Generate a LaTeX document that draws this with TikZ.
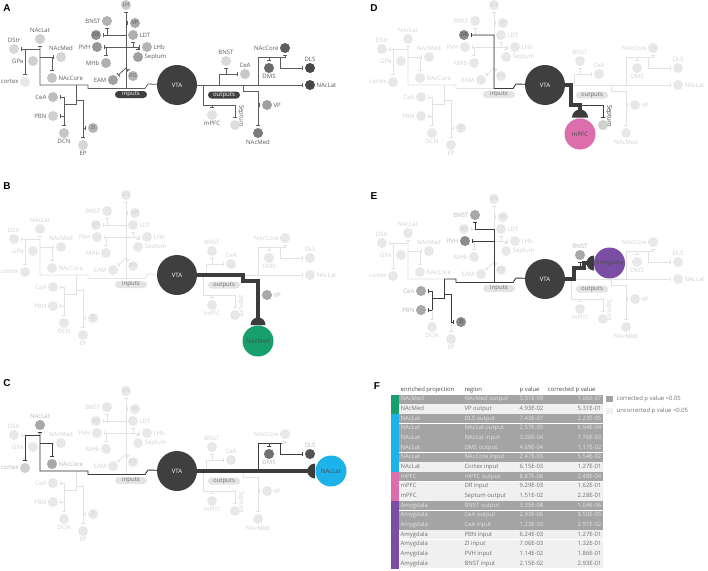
\documentclass[tikz,border=0pt]{standalone}
\usepackage{fontspec}
\setmainfont{Open Sans}
\newfontfamily\letterfont{Liberation Sans}
\usetikzlibrary{arrows.meta}
\definecolor{lnA}{HTML}{5C5C5C}
\definecolor{txA}{HTML}{5C5C5C}
\definecolor{fadeL}{HTML}{E2E2E2}
\definecolor{fadeN}{HTML}{E8E8E8}
\definecolor{fadeT}{HTML}{D2D2D2}
\definecolor{dk}{HTML}{3C3C3C}
\definecolor{dtx}{HTML}{4A4A4A}
\definecolor{vtac}{HTML}{3F3F3F}
\definecolor{pillF}{HTML}{E4E4E4}
\definecolor{pillT}{HTML}{6E6E6E}
\definecolor{gr}{HTML}{17A06D}
\definecolor{cy}{HTML}{1DB3EA}
\definecolor{pk}{HTML}{DC6EAE}
\definecolor{pu}{HTML}{7B4EA5}
\definecolor{rowD}{HTML}{A4A4A4}
\definecolor{rowL}{HTML}{F0F0F0}
\definecolor{tabTD}{HTML}{E4E4E4}
\definecolor{tabTL}{HTML}{707070}
\definecolor{hA}{HTML}{A8A8A8}
\definecolor{hB}{HTML}{8C8C8C}
\definecolor{hC}{HTML}{D0D0D0}
\definecolor{hD}{HTML}{707070}
\definecolor{hE}{HTML}{555555}
% panel A node fills
\definecolor{cLH}{HTML}{C8C8C8}
\definecolor{cVPI}{HTML}{A8A8A8}
\definecolor{cBNSTI}{HTML}{B2B2B2}
\definecolor{cDR}{HTML}{8E8E8E}
\definecolor{cLDT}{HTML}{B0B0B0}
\definecolor{cPVH}{HTML}{969696}
\definecolor{cLHb}{HTML}{B4B4B4}
\definecolor{cSeptI}{HTML}{A0A0A0}
\definecolor{cMHb}{HTML}{B0B0B0}
\definecolor{cEAM}{HTML}{A0A0A0}
\definecolor{cPO}{HTML}{B4B4B4}
\definecolor{cNAcLatI}{HTML}{D0D0D0}
\definecolor{cDStr}{HTML}{D8D8D8}
\definecolor{cGPe}{HTML}{D0D0D0}
\definecolor{ccortex}{HTML}{E8E8E8}
\definecolor{cNAcMedI}{HTML}{D6D6D6}
\definecolor{cNAcCoreI}{HTML}{C4C4C4}
\definecolor{cCeAI}{HTML}{BEBEBE}
\definecolor{cPBN}{HTML}{D0D0D0}
\definecolor{cDCN}{HTML}{C6C6C6}
\definecolor{cZI}{HTML}{B4B4B4}
\definecolor{cEP}{HTML}{D6D6D6}
\definecolor{cBNSTO}{HTML}{DADADA}
\definecolor{cCeAO}{HTML}{C8C8C8}
\definecolor{cNAcCoreO}{HTML}{5E5E5E}
\definecolor{cDMS}{HTML}{6A6A6A}
\definecolor{cDLS}{HTML}{484848}
\definecolor{cNAcLatO}{HTML}{484848}
\definecolor{cVPO}{HTML}{A0A0A0}
\definecolor{cNAcMedO}{HTML}{7A7A7A}
\definecolor{cmPFC}{HTML}{E2E2E2}
\definecolor{cSeptO}{HTML}{DEDEDE}
\newcommand\nfill[1]{c#1}
\newcommand\Afills{\renewcommand\nfill[1]{c##1}\colorlet{lnc}{lnA}\colorlet{lbc}{txA}\colorlet{pillf}{vtac}\colorlet{pillt}{white}}
\newcommand\Ffills{\renewcommand\nfill[1]{fadeN}\colorlet{lnc}{fadeL}\colorlet{lbc}{fadeT}\colorlet{pillf}{pillF}\colorlet{pillt}{pillT}}
\newcommand\fsz{\fontsize{6}{7}\selectfont}
% texts of output nodes that a big node may replace
\newcommand\lNAcLatO{NAcLat}
\newcommand\lNAcMedO{NAcMed}
\newcommand\lmPFC{mPFC}
\newcommand\lCeAO{CeA}
\newcommand\basenet[4]{%
\node[vta] (#1VTA) at (177,85) {VTA};
\node[pill] (#1in) at (131,94.5) {inputs};
\node[pill] (#1out) at (224,95) {outputs};
\node[nd,fill=\nfill{LH}] (#1LH) at (126,5) {LH};
\node[nd,fill=\nfill{VPI}] (#1VPI) at (135,23) {VP};
\node[nd,fill=\nfill{BNSTI},label=left:BNST] (#1BNSTI) at (107,21) {};
\node[nd,fill=\nfill{DR}] (#1DR) at (96,35) {DR};
\node[nd,fill=\nfill{LDT},label=right:LDT] (#1LDT) at (133,35) {};
\node[nd,fill=\nfill{PVH},label=left:PVH] (#1PVH) at (97,47) {};
\node[nd,fill=\nfill{LHb},label=right:LHb] (#1LHb) at (147,47) {};
\node[nd,fill=\nfill{SeptI},label=right:Septum] (#1SeptI) at (138,57) {};
\node[nd,fill=\nfill{MHb},label=left:MHb] (#1MHb) at (106,63) {};
\node[nd,fill=\nfill{EAM},label=left:EAM] (#1EAM) at (113,80) {};
\node[nd,fill=\nfill{PO}] (#1PO) at (133,76) {PO};
\node[nd,fill=\nfill{NAcLatI},label=above:NAcLat] (#1NAcLatI) at (40,39) {};
\node[nd,fill=\nfill{DStr},label=above:DStr] (#1DStr) at (14,49) {};
\node[nd,fill=\nfill{GPe},label={[label distance=3.5pt]left:GPe}] (#1GPe) at (33,61) {};
\node[nd,fill=\nfill{cortex},label=left:cortex] (#1cortex) at (25,82) {};
\node[nd,fill=\nfill{NAcMedI},label=above:NAcMed] (#1NAcMedI) at (61,57) {};
\node[nd,fill=\nfill{NAcCoreI},label=right:NAcCore] (#1NAcCoreI) at (52,78) {};
\node[nd,fill=\nfill{CeAI},label=left:CeA] (#1CeAI) at (53,97) {};
\node[nd,fill=\nfill{PBN},label=left:PBN] (#1PBN) at (53,116) {};
\node[nd,fill=\nfill{DCN},label=below:DCN] (#1DCN) at (64,133) {};
\node[nd,fill=\nfill{ZI}] (#1ZI) at (93,128) {ZI};
\node[nd,fill=\nfill{EP},label=below:EP] (#1EP) at (83,145) {};
\node[nd,fill=\nfill{BNSTO},label=above:BNST] (#1BNSTO) at (#3,61) {};
\node[nd,fill=\nfill{CeAO},label=above:\lCeAO] (#1CeAO) at (#4,74) {};
\node[nd,fill=\nfill{NAcCoreO},label=left:NAcCore] (#1NAcCoreO) at (285,48) {};
\node[nd,fill=\nfill{DMS},label=below:DMS] (#1DMS) at (269,68) {};
\node[nd,fill=\nfill{DLS},label=above:DLS] (#1DLS) at (310,68) {};
\node[nd,fill=\nfill{NAcLatO},label=right:\lNAcLatO] (#1NAcLatO) at (310,85) {};
\node[nd,fill=\nfill{VPO},label=right:VP] (#1VPO) at (267,105) {};
\node[nd,fill=\nfill{NAcMedO},label=below:\lNAcMedO] (#1NAcMedO) at (258,133) {};
\node[nd,fill=\nfill{mPFC},label=below:\lmPFC] (#1mPFC) at (212,115) {};
\node[nd,fill=\nfill{SeptO}] (#1SeptO) at (235,125) {};
\node[lbl,rotate=-90] (#1SeptOl) at (241,116) {Septum};
\coordinate (#1j1) at (148,84); \coordinate (#1j2) at (145,88.5);
\coordinate (#1j3) at (126,88.5); \coordinate (#1j4) at (88,88.5);
\coordinate (#1j5) at (88,85); \coordinate (#1j6) at (76,85);
\coordinate (#1j7) at (40,85); \coordinate (#1j8) at (40,57);
\coordinate (#1j9) at (40,49); \coordinate (#1jc) at (25,49);
\coordinate (#1jg) at (25,61); \coordinate (#1jn) at (52,57);
\coordinate (#1j10) at (76,100); \coordinate (#1j11) at (83,100);
\coordinate (#1jz) at (83,128); \coordinate (#1j12) at (76,104);
\coordinate (#1j13) at (64,104); \coordinate (#1jce) at (64,97);
\coordinate (#1jpb) at (64,116);
\coordinate (#1u1) at (126,23); \coordinate (#1u2) at (126,35);
\coordinate (#1u3) at (107,35); \coordinate (#1u4) at (126,47);
\coordinate (#1u5) at (133,47); \coordinate (#1u6) at (138,47);
\coordinate (#1u7) at (106,47); \coordinate (#1u8) at (126,68);
\coordinate (#1o1) at (#2,85); \coordinate (#1o2) at (#2,74);
\coordinate (#1o3) at (#3,74); \coordinate (#1o4) at (203,85);
\coordinate (#1o5) at (203,105); \coordinate (#1o6) at (212,105);
\coordinate (#1o7) at (235,105); \coordinate (#1o8) at (243,85);
\coordinate (#1o9) at (243,91); \coordinate (#1o10) at (258,91);
\coordinate (#1o11) at (258,105); \coordinate (#1o12) at (258,85);
\coordinate (#1o13) at (258,57); \coordinate (#1o14) at (269,57);
\coordinate (#1o15) at (280,57); \coordinate (#1o16) at (285,57);
\coordinate (#1o17) at (280,68);
\draw[ln,br] (#1VTA) -- (#1j1) -- (#1j2) -- (#1j3) -- (#1j4) -- (#1j5) -- (#1j6) -- (#1j7) -- (#1j9) -- (#1NAcLatI);
\draw[ln,br] (#1j9) -- (#1jc) -- (#1cortex);
\draw[ln,br] (#1jc) -- (#1DStr);
\draw[ln,br] (#1jg) -- (#1GPe);
\draw[ln,br] (#1j8) -- (#1NAcMedI);
\draw[ln,br] (#1jn) -- (#1NAcCoreI);
\draw[ln] (#1j6) -- (#1j12) -- (#1j13);
\draw[ln,br] (#1jce) -- (#1DCN);
\draw[ln,br] (#1jce) -- (#1CeAI);
\draw[ln,br] (#1jpb) -- (#1PBN);
\draw[ln,br] (#1j10) -- (#1j11) -- (#1EP);
\draw[ln,br] (#1jz) -- (#1ZI);
\draw[ln,br] (#1j3) -- (#1LH);
\draw[ln,br] (#1u1) -- (#1VPI);
\draw[ln,br] (#1u2) -- (#1u3) -- (#1BNSTI);
\draw[ln,br] (#1u3) -- (#1DR);
\draw[ln,br,{Bar[width=4.5pt,line width=0.9pt]}-{Bar[width=4.5pt,line width=0.9pt]},shorten <=1.8pt] (#1PVH) -- (#1LHb);
\draw[ln,br] (#1u5) -- (#1LDT);
\draw[ln,br] (#1u6) -- (#1SeptI);
\draw[ln,br] (#1u7) -- (#1MHb);
\draw[ln,br] (#1u8) -- (#1EAM);
\draw[ln,br] (#1u8) -- (#1PO);
\draw[ln,br] (#1VTA) -- (#1NAcLatO);
\draw[ln,br] (#1o1) -- (#1o2) -- (#1CeAO);
\draw[ln,br] (#1o3) -- (#1BNSTO);
\draw[ln,br] (#1o4) -- (#1o5) -- (#1o7) -- (#1SeptO);
\draw[ln,br] (#1o6) -- (#1mPFC);
\draw[ln,br] (#1o8) -- (#1o9) -- (#1o10) -- (#1NAcMedO);
\draw[ln,br] (#1o11) -- (#1VPO);
\draw[ln,br] (#1o12) -- (#1o13) -- (#1o16) -- (#1NAcCoreO);
\draw[ln,br] (#1o14) -- (#1DMS);
\draw[ln,br] (#1o15) -- (#1o17) -- (#1DLS);
}
\begin{document}
\begin{tikzpicture}[x=1pt,y=-1pt,
  every label/.style={font=\fsz,text=lbc,inner sep=0.6pt},
  label distance=0.6pt,
  nd/.style={circle,minimum size=10pt,inner sep=0pt,text=lbc,font=\fontsize{5.3}{6}\selectfont},
  hnd/.style={circle,minimum size=10pt,inner sep=0pt,text=dtx,font=\fontsize{5.3}{6}\selectfont,
     every label/.style={font=\fsz,text=dtx,inner sep=0.6pt}},
  lbl/.style={font=\fsz,text=lbc,inner sep=0pt},
  hlbl/.style={font=\fsz,text=dtx,inner sep=0pt},
  vta/.style={circle,fill=vtac,minimum size=40pt,inner sep=0pt,text=white,font=\fsz},
  pill/.style={rounded corners=3.5pt,fill=pillf,text=pillt,minimum width=32pt,minimum height=7pt,inner sep=0pt,font=\fsz},
  big/.style={circle,minimum size=31pt,inner sep=0pt,text=black!70,font=\fsz},
  ln/.style={draw=lnc,line width=0.8pt},
  dln/.style={draw=dk,line width=0.9pt},
  hl/.style={draw=dk,line width=3.3pt},
  br/.style={-{Bar[width=4.5pt,line width=0.9pt]},shorten >=1.8pt},
  plet/.style={font=\letterfont\bfseries\fontsize{10}{12}\selectfont,inner sep=0pt},
  tab/.style={font=\fontsize{5.9}{7}\selectfont,inner sep=0pt,text height=4.3pt,text depth=1.2pt}
]
\useasboundingbox (0,0) rectangle (708,570);
\fill[white] (0,0) rectangle (708,570);
% ---------- A
\Afills
\begin{scope}
\basenet{a}{219}{226}{245}
\end{scope}
\node[plet] (lA) at (7,8) {A};
% ---------- B
\Ffills
\begin{scope}[shift={(0,190)}]
\renewcommand\lNAcMedO{}
\basenet{b}{206}{212}{231}
\draw[hl] (bVTA) -- (bo8) -- (bo9) -- (bo10) -- (258,130);
\fill[dk] (250.5,135) arc[start angle=180,end angle=360,radius=7.5] -- cycle;
\node[big,fill=gr] (bNAcMedB) at (258,151) {NAcMed};
\draw[dln,br] (bo11) -- (bVPO);
\node[hnd,fill=hA,label=right:VP] (bVPh) at (bVPO) {};
\end{scope}
\node[plet] (lB) at (7,186) {B};
% ---------- C
\begin{scope}[shift={(0,386)}]
\renewcommand\lNAcLatO{}
\basenet{c}{206}{212}{231}
\draw[hl] (cVTA) -- (309,85);
\fill[dk] (315,92.5) arc[start angle=90,end angle=270,radius=7.5] -- cycle;
\node[big,fill=cy] (cNAcLatB) at (331,85) {NAcLat};
\draw[dln] (co12) -- (co13) -- (282,57);
\draw[dln,br] (co14) -- (cDMS);
\draw[dln,br] (co15) -- (co17) -- (cDLS);
\node[hnd,fill=hD,label=below:DMS] (cDMSh) at (cDMS) {};
\node[hnd,fill=hE,label=above:DLS] (cDLSh) at (cDLS) {};
\draw[dln,br] (cVTA) -- (cj1) -- (cj2) -- (cj3) -- (cj4) -- (cj5) -- (cj6) -- (cj7) -- (cj9) -- (cNAcLatI);
\draw[dln,br] (cj9) -- (cjc) -- (ccortex);
\draw[dln] (cj8) -- (cjn);
\draw[dln,br] (cjn) -- (cNAcCoreI);
\node[hnd,fill=hA,label=above:NAcLat] (cNAcLatIh) at (cNAcLatI) {};
\node[hnd,fill=hC,label=left:cortex] (ccortexh) at (ccortex) {};
\node[hnd,fill=hA,label=right:NAcCore] (cNAcCoreIh) at (cNAcCoreI) {};
\end{scope}
\node[plet] (lC) at (7,383) {C};
% ---------- D
\begin{scope}[shift={(368,0)}]
\renewcommand\lmPFC{}
\basenet{d}{206}{212}{231}
\draw[hl] (dVTA) -- (do4) -- (do5) -- (do6) -- (212,111);
\fill[dk] (204,117.5) arc[start angle=180,end angle=360,radius=8] -- cycle;
\node[big,fill=pk] (dmPFCB) at (212,134) {mPFC};
\draw[dln,br] (do6) -- (do7) -- (dSeptO);
\node[hnd,fill=hC] (dSeptOh) at (dSeptO) {};
\node[hlbl,rotate=-90] (dSeptOlh) at (dSeptOl) {Septum};
\draw[dln,br] (dVTA) -- (dj1) -- (dj2) -- (dj3) -- (du2) -- (du3) -- (dDR);
\node[hnd,fill=hB] (dDRh) at (dDR) {DR};
\end{scope}
\node[plet] (lD) at (374,8) {D};
% ---------- E
\begin{scope}[shift={(368,194)}]
\renewcommand\lCeAO{}
\basenet{e}{206}{212}{231}
\draw[hl] (eVTA) -- (eo1) -- (eo2) -- (216,74) -- (216,69) -- (220,69);
\fill[dk] (226,76.5) arc[start angle=90,end angle=270,radius=7.5] -- cycle;
\node[big,fill=pu] (eAmyB) at (241.5,69) {Amygdala};
\draw[dln,br] (eo3) -- (eBNSTO);
\node[hnd,fill=hA,label=above:BNST] (eBNSTOh) at (eBNSTO) {};
\draw[dln] (eVTA) -- (ej1) -- (ej2) -- (ej3) -- (ej4) -- (ej5) -- (ej6);
\draw[dln] (ej3) -- (eu2);
\draw[dln,br] (eu2) -- (eu3) -- (eBNSTI);
\draw[dln,br] (eu4) -- (ePVH);
\draw[dln] (ej6) -- (ej12) -- (ej13);
\draw[dln] (ejce) -- (ejpb);
\draw[dln,br] (ejce) -- (eCeAI);
\draw[dln,br] (ejpb) -- (ePBN);
\draw[dln] (ej10) -- (ej11) -- (ejz);
\draw[dln,br] (ejz) -- (eZI);
\node[hnd,fill=hA,label=left:BNST] (eBNSTIh) at (eBNSTI) {};
\node[hnd,fill=hB,label=left:PVH] (ePVHh) at (ePVH) {};
\node[hnd,fill=hA,label=left:CeA] (eCeAIh) at (eCeAI) {};
\node[hnd,fill=hA,label=left:PBN] (ePBNh) at (ePBN) {};
\node[hnd,fill=hB] (eZIh) at (eZI) {ZI};
\end{scope}
\node[plet] (lE) at (374,196) {E};
% ---------- F table
\node[plet] (lF) at (377,386) {F};
\node[tab,text=dtx,anchor=west] (h1) at (400.5,390) {enriched projection};
\node[tab,text=dtx,anchor=west] (h2) at (464.3,390) {region};
\node[tab,text=dtx,anchor=west] (h3) at (519.5,390) {p value};
\node[tab,text=dtx,anchor=west] (h4) at (547.7,390) {corrected p value};
\foreach \i/\pa/\pb/\pc/\pd/\k in {
 1/NAcMed/NAcMed output/3.31E-09/1.06E-07/D,
 2/NAcMed/VP output/4.93E-02/5.31E-01/L,
 3/NAcLat/DLS output/7.43E-07/2.23E-05/D,
 4/NAcLat/NAcLat output/2.57E-05/6.94E-04/D,
 5/NAcLat/NAcLat input/3.00E-04/7.76E-03/D,
 6/NAcLat/DMS output/4.69E-04/1.17E-02/D,
 7/NAcLat/NAcCore input/2.47E-03/5.54E-02/D,
 8/NAcLat/Cortex input/6.15E-03/1.27E-01/L,
 9/mPFC/mPFC output/8.87E-06/2.48E-04/D,
 10/mPFC/DR input/9.29E-03/1.62E-01/L,
 11/mPFC/Septum output/1.51E-02/2.28E-01/L,
 12/Amygdala/BNST output/3.35E-08/1.04E-06/D,
 13/Amygdala/CeA output/2.93E-06/8.50E-05/D,
 14/Amygdala/CeA input/1.23E-03/2.91E-02/D,
 15/Amygdala/PBN input/6.24E-03/1.27E-01/L,
 16/Amygdala/ZI input/7.06E-03/1.32E-01/L,
 17/Amygdala/PVH input/1.14E-02/1.86E-01/L,
 18/Amygdala/BNST input/2.15E-02/2.93E-01/L}{
  \pgfmathsetmacro\yy{399.3+(\i-1)*9.67}
  \if\k D\def\rc{rowD}\def\tc{tabTD}\else\def\rc{rowL}\def\tc{tabTL}\fi
  \fill[\rc] (399,\yy-4.6) rectangle (602.5,\yy+4.6);
  \node[tab,text=\tc,anchor=west] (ta\i) at (400.5,\yy) {\pa};
  \node[tab,text=\tc,anchor=west] (tb\i) at (464.3,\yy) {\pb};
  \node[tab,text=\tc,anchor=west] (tc\i) at (519.5,\yy) {\pc};
  \node[tab,text=\tc,anchor=east] (td\i) at (601.5,\yy) {\pd};
}
\fill[gr] (391,394.5) rectangle (399,413.8);
\fill[cy] (391,413.8) rectangle (399,471.8);
\fill[pk] (391,471.8) rectangle (399,500.8);
\fill[pu] (391,500.8) rectangle (399,568.5);
\fill[rowD] (606,395.7) rectangle (612.7,402.3);
\fill[rowL] (606,407.7) rectangle (612.7,414.3);
\node[tab,text=tabTL,anchor=west] (lg1) at (616.5,399) {corrected p value <0.05};
\node[tab,text=tabTL,anchor=west] (lg2) at (616.5,411) {uncorrected p value <0.05};
\end{tikzpicture}
\end{document}
